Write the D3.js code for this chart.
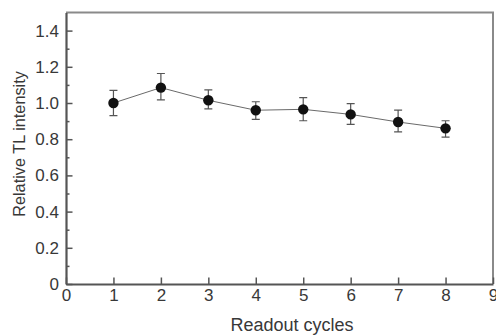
<!DOCTYPE html>
<html>
<head>
<meta charset="utf-8">
<script src="https://cdn.jsdelivr.net/npm/d3@7"></script>
<style>
  body { margin: 0; background: #fff; }
  svg { display: block; font-family: "Liberation Sans", Arial, sans-serif; }
  .axis text { fill: #383838; font-size: 17px; }
  .axis-label { fill: #383838; }
</style>
</head>
<body>
<div id="chart"></div>
<script>
// Data
const cycles = [1, 2, 3, 4, 5, 6, 7, 8];
const intensity = [1.00, 1.085, 1.015, 0.96, 0.965, 0.937, 0.895, 0.86];
const errLow = [0.93, 1.017, 0.967, 0.91, 0.902, 0.882, 0.84, 0.812];
const errHigh = [1.07, 1.163, 1.073, 1.007, 1.03, 0.996, 0.961, 0.902];
const xTicks = [0, 1, 2, 3, 4, 5, 6, 7, 8, 9];
const yTicks = [0, 0.2, 0.4, 0.6, 0.8, 1.0, 1.2, 1.4];
const yMinorTicks = [0.1, 0.3, 0.5, 0.7, 0.9, 1.1, 1.3];

const width = 496;
const height = 335;
const margin = { top: 12.5, right: 3, bottom: 51, left: 66 };

const svg = d3.select('#chart')
    .append('svg')
    .attr('width', width)
    .attr('height', height);

const xScale = d3.scaleLinear()
    .domain([0, 9])
    .range([margin.left, width - margin.right]);

const yScale = d3.scaleLinear()
    .domain([0, 1.5])
    .range([height - margin.bottom, margin.top]);

const data = cycles.map((c, i) => ({
    x: c, y: intensity[i], lo: errLow[i], hi: errHigh[i]
}));

// frame (top and right)
svg.append('path')
    .attr('d', `M${xScale(0)},${yScale(1.5)}H${xScale(9)}V${yScale(0)}`)
    .attr('fill', 'none')
    .attr('stroke', '#8a8a8a')
    .attr('stroke-width', 2);

// minor y ticks
svg.append('g')
    .attr('class', 'axis minor')
    .attr('transform', `translate(${margin.left},0)`)
    .call(d3.axisLeft(yScale).tickValues(yMinorTicks).tickSize(-3.5).tickFormat(''))
    .call(g => g.select('.domain').remove())
    .selectAll('line').attr('stroke', '#555').attr('stroke-width', 1.5);

// y axis
svg.append('g')
    .attr('class', 'axis y-axis')
    .attr('transform', `translate(${margin.left},0)`)
    .call(d3.axisLeft(yScale)
        .tickValues(yTicks)
        .tickSize(-6.5)
        .tickSizeOuter(0)
        .tickPadding(7)
        .tickFormat(d => d === 0 ? '0' : d3.format('.1f')(d)))
    .attr('font-family', null)
    .attr('font-size', null)
    .call(g => g.select('.domain').attr('stroke', '#555').attr('stroke-width', 2.2))
    .call(g => g.selectAll('line').attr('stroke', '#555').attr('stroke-width', 1.5));

// x axis
svg.append('g')
    .attr('class', 'axis x-axis')
    .attr('transform', `translate(0,${yScale(0)})`)
    .call(d3.axisBottom(xScale)
        .tickValues(xTicks)
        .tickSize(-6.5)
        .tickSizeOuter(0)
        .tickPadding(5))
    .attr('font-family', null)
    .attr('font-size', null)
    .call(g => g.select('.domain').attr('stroke', '#555').attr('stroke-width', 2.2))
    .call(g => g.selectAll('line').attr('stroke', '#555').attr('stroke-width', 1.5));

// connecting line
svg.append('path')
    .datum(data)
    .attr('fill', 'none')
    .attr('stroke', '#6a6a6a')
    .attr('stroke-width', 1)
    .attr('d', d3.line().x(d => xScale(d.x)).y(d => yScale(d.y)));

// error bars
const eb = svg.append('g')
    .attr('stroke', '#555')
    .attr('stroke-width', 1.2);

eb.selectAll('.err')
    .data(data)
    .enter()
    .append('path')
    .attr('class', 'err')
    .attr('fill', 'none')
    .attr('d', d => {
        const x = xScale(d.x), y1 = yScale(d.hi), y2 = yScale(d.lo);
        return `M${x - 4},${y1}H${x + 4}M${x},${y1}V${y2}M${x - 4},${y2}H${x + 4}`;
    });

// points
svg.selectAll('.pt')
    .data(data)
    .enter()
    .append('circle')
    .attr('class', 'pt')
    .attr('cx', d => xScale(d.x))
    .attr('cy', d => yScale(d.y))
    .attr('r', 5.2)
    .attr('fill', '#111');

// axis labels
svg.append('text')
    .attr('class', 'axis-label')
    .attr('x', 292)
    .attr('y', 331)
    .attr('text-anchor', 'middle')
    .style('font-size', '18px')
    .text('Readout cycles');

svg.append('text')
    .attr('class', 'axis-label')
    .attr('transform', 'rotate(-90)')
    .attr('x', -144)
    .attr('y', 25)
    .attr('text-anchor', 'middle')
    .style('font-size', '16.3px')
    .text('Relative TL intensity');
</script>
</body>
</html>
